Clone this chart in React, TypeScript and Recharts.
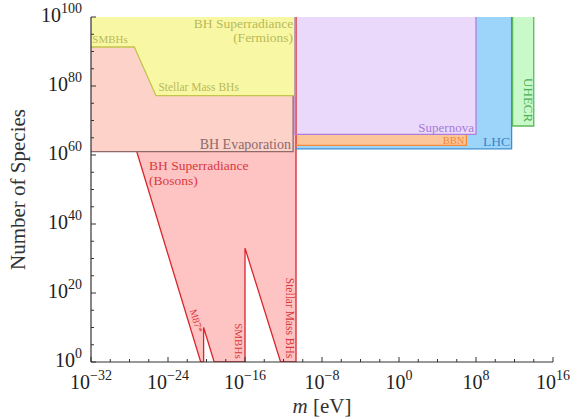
import React from 'react';
import { ComposedChart, Area, Line, Scatter, XAxis, YAxis } from 'recharts';

const FONT = '"Liberation Serif", "Times New Roman", serif';

// axis ticks (log10 values)
const xTicks = [-32, -30, -28, -26, -24, -22, -20, -18, -16, -14, -12, -10, -8, -6, -4, -2, 0, 2, 4, 6, 8, 10, 12, 14, 16];
const xMajor = [-32, -24, -16, -8, 0, 8, 16];
const yTicks = [0, 5, 10, 15, 20, 25, 30, 35, 40, 45, 50, 55, 60, 65, 70, 75, 80, 85, 90, 95, 100];
const yMajor = [0, 20, 40, 60, 80, 100];

// Regions: x = log10(m/eV), lo/hi = log10(N)
const bosonsX = [-31.5, -20.6, -20.3, -20.3, -19.2, -16.0, -16.0, -12.3, -10.7];
const bosonsLo = [100, 0, 0, 10, 0, 0, 33, 0, 0];
const bosonsHi = [100, 100, 100, 100, 100, 100, 100, 100, 100];

const evapX = [-32, -11.0];
const evapLo = [61, 61];
const evapHi = [100, 100];

const fermX = [-32, -27.5, -25.25, -10.8];
const fermLo = [91.3, 91.3, 77.2, 77.2];
const fermHi = [100, 100, 100, 100];

const lhcX = [-10.7, 11.7];
const lhcLo = [61.8, 61.8];
const lhcHi = [100, 100];

const bbnX = [-10.7, 7.0];
const bbnLo = [62.8, 62.8];
const bbnHi = [100, 100];

const snX = [-10.8, 8.0];
const snLo = [66, 66];
const snHi = [100, 100];

const uhecrX = [11.8, 14.0];
const uhecrLo = [68.4, 68.4];
const uhecrHi = [100, 100];

// Visible boundary lines
const bosonsEdgeX = [-27.25, -20.6, -20.3, -20.3, -19.2, -16.0, -16.0, -12.3, -10.7, -10.7];
const bosonsEdgeY = [61, 0, 0, 10, 0, 0, 33, 0, 0, 100];
const evapEdgeX = [-32, -11.0, -11.0];
const evapEdgeY = [61, 61, 77.2];
const fermEdgeX = [-32, -27.5, -25.25, -10.8, -10.8];
const fermEdgeY = [91.3, 91.3, 77.2, 77.2, 100];
const lhcEdgeX = [-10.7, 11.7, 11.7];
const lhcEdgeY = [61.8, 61.8, 100];
const bbnEdgeX = [-10.7, 7.0, 7.0];
const bbnEdgeY = [62.8, 62.8, 66];
const snEdgeX = [-10.8, -10.8, 8.0, 8.0];
const snEdgeY = [100, 66, 66, 100];
const uhecrEdgeX = [11.8, 11.8, 14.0, 14.0];
const uhecrEdgeY = [100, 68.4, 68.4, 100];

// Text labels (anchored at data coordinates)
const labelIds = ['ferm1', 'ferm2', 'smbhTop', 'stellarTop', 'evap', 'bos1', 'bos2', 'm87', 'smbhV', 'stellarV', 'sn', 'bbn', 'lhc', 'uhecr'];
const labelTexts = ['BH Superradiance', '(Fermions)', 'SMBHs', 'Stellar Mass BHs', 'BH Evaporation', 'BH Superradiance', '(Bosons)', 'M87*', 'SMBHs', 'Stellar Mass BHs', 'Supernova', 'BBN', 'LHC', 'UHECR'];
const labelX = [-11.0, -11.0, -31.86, -25.0, -11.22, -25.97, -25.97, -21.04, -16.6, -11.32, 7.79, 6.79, 11.53, 13.43];
const labelY = [96.7, 92.7, 92.4, 78.55, 61.7, 55.65, 51.3, 11.9, 6.1, 12.75, 66.6, 63.2, 62.6, 75.9];

const C = {
  fermFill: '#f8f8a4', fermLine: '#c4c44c', fermText: '#b9b95a',
  evapFill: '#fcd2c9', evapLine: '#8e6a6a', evapText: '#8e6a6a',
  bosFill: '#fec3c3', bosLine: '#d9262b', bosText: '#d9393c',
  snFill: '#ead9fb', snLine: '#ad7fdc', snText: '#a67ad6',
  bbnFill: '#fdc59a', bbnLine: '#f38b34', bbnText: '#f08a34',
  lhcFill: '#9dd4f9', lhcLine: '#3e8dcf', lhcText: '#3a86c8',
  uhecrFill: '#c9f9c9', uhecrLine: '#5cb85c', uhecrText: '#4caf50',
};

const LABEL_STYLE: Record<string, { color: string; size: number; anchor: string; rotate?: number }> = {
  ferm1: { color: C.fermText, size: 13.5, anchor: 'end' },
  ferm2: { color: C.fermText, size: 13.5, anchor: 'end' },
  smbhTop: { color: C.fermText, size: 11, anchor: 'start' },
  stellarTop: { color: C.fermText, size: 11.5, anchor: 'start' },
  evap: { color: C.evapText, size: 14, anchor: 'end' },
  bos1: { color: C.bosText, size: 13.5, anchor: 'start' },
  bos2: { color: C.bosText, size: 13.5, anchor: 'start' },
  m87: { color: C.bosText, size: 10, anchor: 'middle', rotate: 73 },
  smbhV: { color: C.bosText, size: 11, anchor: 'middle', rotate: 90 },
  stellarV: { color: C.bosText, size: 11.5, anchor: 'middle', rotate: 90 },
  sn: { color: C.snText, size: 13, anchor: 'end' },
  bbn: { color: C.bbnText, size: 10.5, anchor: 'end' },
  lhc: { color: C.lhcText, size: 13.5, anchor: 'end' },
  uhecr: { color: C.uhecrText, size: 13, anchor: 'middle', rotate: 90 },
};

const rangeData = (xs: number[], lo: number[], hi: number[]) => xs.map((x, i) => ({ x, range: [lo[i], hi[i]] }));
const lineData = (xs: number[], ys: number[]) => xs.map((x, i) => ({ x, y: ys[i] }));
const labelData = labelIds.map((id, i) => ({ id, text: labelTexts[i], x: labelX[i], y: labelY[i] }));

const expStr = (v: number) => (v < 0 ? '\u2212' + Math.abs(v) : String(v));
const AX = '#333';

const BottomTick = (p: any) => {
  const { x, y, payload } = p;
  const v = payload.value;
  const major = xMajor.includes(v);
  return (
    <g>
      <line x1={x} y1={y} x2={x} y2={y - (major ? 5 : 3)} stroke={AX} strokeWidth={1} />
      {major && (
        <text x={x} y={y + 27} textAnchor="middle" fontFamily={FONT} fill="#222">
          <tspan fontSize={20}>10</tspan>
          <tspan fontSize={14} dy={-9}>{expStr(v)}</tspan>
        </text>
      )}
    </g>
  );
};
const TopTick = (p: any) => {
  const { x, y, payload } = p;
  const major = xMajor.includes(payload.value);
  return <line x1={x} y1={y} x2={x} y2={y + (major ? 5 : 3)} stroke={AX} strokeWidth={1} />;
};
const LeftTick = (p: any) => {
  const { x, y, payload } = p;
  const v = payload.value;
  const major = yMajor.includes(v);
  return (
    <g>
      <line x1={x} y1={y} x2={x + (major ? 5 : 3)} y2={y} stroke={AX} strokeWidth={1} />
      {major && (
        <text x={x - 9} y={y + 5} textAnchor="end" fontFamily={FONT} fill="#222">
          <tspan fontSize={20}>10</tspan>
          <tspan fontSize={14} dy={-9}>{expStr(v)}</tspan>
        </text>
      )}
    </g>
  );
};
const RightTick = (p: any) => {
  const { x, y, payload } = p;
  const major = yMajor.includes(payload.value);
  return <line x1={x} y1={y} x2={x - (major ? 5 : 3)} y2={y} stroke={AX} strokeWidth={1} />;
};

const LabelShape = (p: any) => {
  const { cx, cy, payload } = p;
  const s = LABEL_STYLE[payload.id];
  return (
    <text
      x={cx}
      y={cy}
      fill={s.color}
      fontSize={s.size}
      fontFamily={FONT}
      textAnchor={s.anchor as any}
      dominantBaseline={s.rotate ? 'central' : 'auto'}
      transform={s.rotate ? `rotate(${s.rotate}, ${cx}, ${cy})` : undefined}
    >
      {payload.text}
    </text>
  );
};

const YTitle = (p: any) => {
  const vb = p.viewBox || { x: 0, y: 17, width: 91, height: 345 };
  const cx = vb.x + 25;
  const cy = vb.y + vb.height / 2;
  return (
    <text x={cx} y={cy} transform={`rotate(-90, ${cx}, ${cy})`} textAnchor="middle" fontSize={21} fontFamily={FONT} fill="#333">
      Number of Species
    </text>
  );
};
const XTitle = (p: any) => {
  const vb = p.viewBox || { x: 91, y: 362, width: 462, height: 58 };
  const cx = vb.x + vb.width / 2;
  const cy = vb.y + 51;
  return (
    <text x={cx} y={cy} textAnchor="middle" fontSize={21} fontFamily={FONT} fill="#333">
      <tspan fontStyle="italic">m</tspan> [eV]
    </text>
  );
};

const regions = [
  { key: 'bos', data: rangeData(bosonsX, bosonsLo, bosonsHi), fill: C.bosFill },
  { key: 'evap', data: rangeData(evapX, evapLo, evapHi), fill: C.evapFill },
  { key: 'ferm', data: rangeData(fermX, fermLo, fermHi), fill: C.fermFill },
  { key: 'lhc', data: rangeData(lhcX, lhcLo, lhcHi), fill: C.lhcFill },
  { key: 'bbn', data: rangeData(bbnX, bbnLo, bbnHi), fill: C.bbnFill },
  { key: 'sn', data: rangeData(snX, snLo, snHi), fill: C.snFill },
  { key: 'uhecr', data: rangeData(uhecrX, uhecrLo, uhecrHi), fill: C.uhecrFill },
];
const edges = [
  { key: 'bosE', data: lineData(bosonsEdgeX, bosonsEdgeY), stroke: C.bosLine },
  { key: 'evapE', data: lineData(evapEdgeX, evapEdgeY), stroke: C.evapLine },
  { key: 'fermE', data: lineData(fermEdgeX, fermEdgeY), stroke: C.fermLine },
  { key: 'lhcE', data: lineData(lhcEdgeX, lhcEdgeY), stroke: C.lhcLine },
  { key: 'bbnE', data: lineData(bbnEdgeX, bbnEdgeY), stroke: C.bbnLine },
  { key: 'snE', data: lineData(snEdgeX, snEdgeY), stroke: C.snLine },
  { key: 'uhecrE', data: lineData(uhecrEdgeX, uhecrEdgeY), stroke: C.uhecrLine },
];

export default function App() {
  return (
    <div style={{ width: 574, height: 420, overflow: 'hidden' }}>
      <style>{'html,body{margin:0;padding:0;}'}</style>
      <ComposedChart width={574} height={420} margin={{ top: 17, right: 21, left: 0, bottom: 0 }}>
        <XAxis
          xAxisId={0}
          dataKey="x"
          type="number"
          domain={[-32, 16]}
          allowDataOverflow
          ticks={xTicks}
          interval={0}
          height={58}
          tickSize={0}
          tickMargin={0}
          tick={<BottomTick />}
          tickLine={false}
          axisLine={{ stroke: AX, strokeWidth: 1.2 }}
          label={{ content: <XTitle /> }}
        />
        <XAxis
          xAxisId="top"
          orientation="top"
          dataKey="x"
          type="number"
          domain={[-32, 16]}
          allowDataOverflow
          ticks={xTicks}
          interval={0}
          height={0}
          tickSize={0}
          tickMargin={0}
          tick={<TopTick />}
          tickLine={false}
          axisLine={{ stroke: AX, strokeWidth: 1.2 }}
        />
        <YAxis
          yAxisId={0}
          type="number"
          domain={[0, 100]}
          allowDataOverflow
          ticks={yTicks}
          interval={0}
          width={91}
          tickSize={0}
          tickMargin={0}
          tick={<LeftTick />}
          tickLine={false}
          axisLine={{ stroke: AX, strokeWidth: 1.2 }}
          label={{ content: <YTitle /> }}
        />
        <YAxis
          yAxisId="right"
          orientation="right"
          type="number"
          domain={[0, 100]}
          allowDataOverflow
          ticks={yTicks}
          interval={0}
          width={0}
          tickSize={0}
          tickMargin={0}
          tick={<RightTick />}
          tickLine={false}
          axisLine={{ stroke: AX, strokeWidth: 1.2 }}
        />
        {regions.map((r) => (
          <Area
            key={r.key}
            data={r.data}
            dataKey="range"
            type="linear"
            fill={r.fill}
            fillOpacity={1}
            stroke="none"
            isAnimationActive={false}
            activeDot={false}
          />
        ))}
        {edges.map((e) => (
          <Line
            key={e.key}
            data={e.data}
            dataKey="y"
            type="linear"
            stroke={e.stroke}
            strokeWidth={1.3}
            dot={false}
            activeDot={false}
            isAnimationActive={false}
          />
        ))}
        <Scatter data={labelData} dataKey="y" shape={<LabelShape />} isAnimationActive={false} />
      </ComposedChart>
    </div>
  );
}
